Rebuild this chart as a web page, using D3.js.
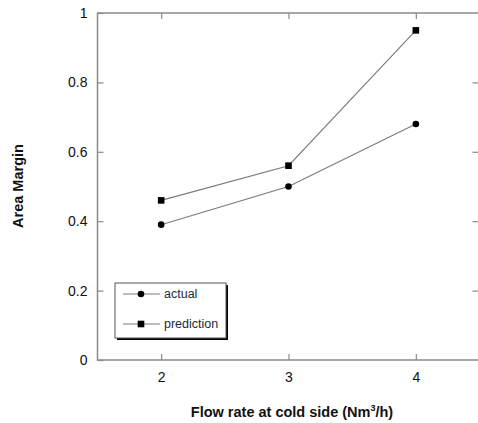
<!DOCTYPE html>
<html><head><meta charset="utf-8">
<script src="https://cdn.jsdelivr.net/npm/d3@7"></script>
<style>body{margin:0;background:#fff;} svg{display:block;}</style>
</head><body>
<svg id="c" width="478" height="423"></svg>
<script>
const flowRates = [2, 3, 4];
const actual = [0.39, 0.50, 0.68];
const prediction = [0.46, 0.56, 0.95];
const xTicks = [2, 3, 4];
const yTicks = [0, 0.2, 0.4, 0.6, 0.8, 1];
const yTickLabels = ["0", "0.2", "0.4", "0.6", "0.8", "1"];

const svg = d3.select("#c");
const L = 97.5, T = 13, R = 479.5, B = 360;
const x = d3.scaleLinear().domain([1.5, 4.5]).range([L, R]);
const y = d3.scaleLinear().domain([0, 1]).range([B, T]);
const frame = "#8a8a8a";
const font = "'Liberation Sans', Arial, sans-serif";

// frame
svg.append("rect").attr("x", L).attr("y", T).attr("width", R - L).attr("height", B - T)
  .attr("fill", "none").attr("stroke", frame).attr("stroke-width", 1.5);

// axes with inward ticks
const styleAxis = g => {
  g.select(".domain").remove();
  g.selectAll(".tick line").attr("stroke", frame).attr("stroke-width", 1.2);
  g.selectAll(".tick text").attr("font-family", font).attr("font-size", 14).attr("fill", "#111");
};
svg.append("g").attr("transform", `translate(0,${B})`)
  .call(d3.axisBottom(x).tickValues(xTicks).tickSizeInner(-6).tickPadding(12).tickFormat(d3.format("d")))
  .call(styleAxis);
svg.append("g").attr("transform", `translate(0,${T})`)
  .call(d3.axisTop(x).tickValues(xTicks).tickSizeInner(-6).tickFormat(""))
  .call(styleAxis);
svg.append("g").attr("transform", `translate(${L},0)`)
  .call(d3.axisLeft(y).tickValues(yTicks).tickSizeInner(-6).tickPadding(10).tickFormat((d, i) => yTickLabels[i]))
  .call(styleAxis);
svg.append("g").attr("transform", `translate(${R - 1},0)`)
  .call(d3.axisRight(y).tickValues(yTicks.slice(1, -1)).tickSizeInner(-6).tickFormat(""))
  .call(styleAxis);

// lines
const line = d3.line().x((d, i) => x(flowRates[i])).y(d => y(d));
[actual, prediction].forEach(s => {
  svg.append("path").datum(s).attr("d", line).attr("fill", "none")
    .attr("stroke", "#7a7a7a").attr("stroke-width", 1.1);
});
svg.selectAll(".pa").data(actual).join("circle")
  .attr("cx", (d, i) => x(flowRates[i])).attr("cy", d => y(d)).attr("r", 3.3).attr("fill", "#000");
svg.selectAll(".pp").data(prediction).join("rect")
  .attr("x", (d, i) => x(flowRates[i]) - 3.3).attr("y", d => y(d) - 3.3)
  .attr("width", 6.6).attr("height", 6.6).attr("fill", "#000");

// legend
const lg = svg.append("g");
lg.append("rect").attr("x", 117).attr("y", 285).attr("width", 111).attr("height", 55).attr("fill", "#000");
lg.append("rect").attr("x", 115).attr("y", 283).attr("width", 111).attr("height", 55)
  .attr("fill", "#fff").attr("stroke", "#555").attr("stroke-width", 1);
const items = [{name: "actual", yy: 294, m: "c"}, {name: "prediction", yy: 324, m: "s"}];
items.forEach(it => {
  lg.append("line").attr("x1", 123).attr("x2", 160).attr("y1", it.yy).attr("y2", it.yy)
    .attr("stroke", "#7a7a7a").attr("stroke-width", 1.1);
  if (it.m === "c") lg.append("circle").attr("cx", 141).attr("cy", it.yy).attr("r", 3.3).attr("fill", "#000");
  else lg.append("rect").attr("x", 137.7).attr("y", it.yy - 3.3).attr("width", 6.6).attr("height", 6.6).attr("fill", "#000");
  lg.append("text").attr("x", 164).attr("y", it.yy).attr("dy", "0.35em")
    .attr("font-family", font).attr("font-size", 12.5).attr("fill", "#1a2a3a").text(it.name);
});

// axis titles
const xt = svg.append("text").attr("x", 292).attr("y", 417).attr("text-anchor", "middle")
  .attr("font-family", font).attr("font-size", 14.5).attr("font-weight", "bold").attr("fill", "#111");
xt.append("tspan").text("Flow rate at cold side (Nm");
xt.append("tspan").attr("dy", -6).attr("font-size", 9).text("3");
xt.append("tspan").attr("dy", 6).text("/h)");
svg.append("text").attr("transform", "translate(23,186) rotate(-90)").attr("text-anchor", "middle")
  .attr("font-family", font).attr("font-size", 14.5).attr("font-weight", "bold").attr("fill", "#111")
  .text("Area Margin");
</script>
</body></html>
